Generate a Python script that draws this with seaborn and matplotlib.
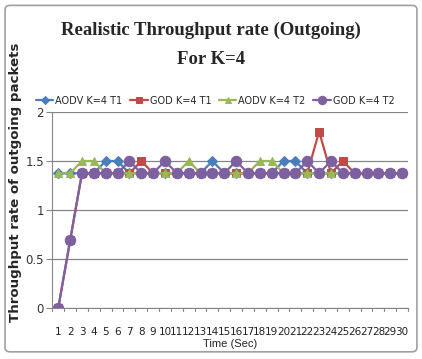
import matplotlib
matplotlib.use("Agg")
import matplotlib.pyplot as plt
from matplotlib.patches import FancyBboxPatch
import seaborn as sns
import pandas as pd
import numpy as np

times = list(range(1, 31))
aodv_t1 = [1.375, 1.375, 1.375, 1.375, 1.5, 1.5, 1.375, 1.375, 1.375, 1.375,
           1.375, 1.375, 1.375, 1.5, 1.375, 1.375, 1.375, 1.375, 1.375, 1.5,
           1.5, 1.375, 1.375, 1.375, 1.375, 1.375, 1.375, 1.375, 1.375, 1.375]
god_t1 = [0, 0.69, 1.375, 1.375, 1.375, 1.375, 1.375, 1.5, 1.375, 1.375,
          1.375, 1.375, 1.375, 1.375, 1.375, 1.375, 1.375, 1.375, 1.375, 1.375,
          1.375, 1.375, 1.8, 1.375, 1.5, 1.375, 1.375, 1.375, 1.375, 1.375]
aodv_t2 = [1.375, 1.375, 1.5, 1.5, 1.375, 1.375, 1.375, 1.375, 1.375, 1.375,
           1.375, 1.5, 1.375, 1.375, 1.375, 1.375, 1.375, 1.5, 1.5, 1.375,
           1.375, 1.375, 1.375, 1.375, 1.375, 1.375, 1.375, 1.375, 1.375, 1.375]
god_t2 = [0, 0.69, 1.375, 1.375, 1.375, 1.375, 1.5, 1.375, 1.375, 1.5,
          1.375, 1.375, 1.375, 1.375, 1.375, 1.5, 1.375, 1.375, 1.375, 1.375,
          1.375, 1.5, 1.375, 1.5, 1.375, 1.375, 1.375, 1.375, 1.375, 1.375]

series_names = ["AODV K=4 T1", "GOD K=4 T1", "AODV K=4 T2", "GOD K=4 T2"]
series_values = [aodv_t1, god_t1, aodv_t2, god_t2]
colors = ["#4A7EBB", "#BE4B48", "#98B954", "#7D60A0"]
markers = ["D", "s", "^", "o"]
msizes = [5, 6, 6, 7.5]

df = pd.concat([pd.DataFrame({"Time": times, "Value": v, "Series": n})
                for n, v in zip(series_names, series_values)], ignore_index=True)

sns.set_style("white")
fig = plt.figure(figsize=(4.22, 3.59), dpi=100)
ax = fig.add_axes([0.124, 0.142, 0.843, 0.546])

for name, col, mk, ms in zip(series_names, colors, markers, msizes):
    sub = df[df["Series"] == name]
    sns.lineplot(data=sub, x="Time", y="Value", ax=ax, color=col, marker=mk,
                 markersize=ms, markeredgecolor=col, linewidth=1.6, label=name,
                 legend=False)

ax.set_xlim(0.5, 30.5)
ax.set_ylim(0, 2)
ax.set_yticks([0, 0.5, 1, 1.5, 2])
ax.set_yticklabels(["0", "0.5", "1", "1.5", "2"], fontsize=8.5, color="#333333")
ax.set_xticks(times)
ax.set_xticklabels([str(t) for t in times], fontsize=7.5, color="#222222")
ax.tick_params(axis="x", length=0, pad=14)
ax.tick_params(axis="y", length=4, color="#868686", left=True, direction="out", pad=2)
for xb in np.arange(0.5, 31, 1):
    ax.plot([xb, xb], [0, -0.035], color="#868686", lw=0.8, clip_on=False)
ax.grid(axis="y", color="#868686", lw=0.9)
ax.set_axisbelow(True)
for s in ["top", "right"]:
    ax.spines[s].set_visible(False)
ax.spines["left"].set_color("#868686")
ax.spines["bottom"].set_color("#868686")

ax.set_xlabel("Time (Sec)", fontsize=8, labelpad=1, family="Liberation Sans")
ax.set_ylabel("Throughput rate of outgoing packets", fontsize=9.6,
              fontweight="bold")
ax.yaxis.set_label_coords(-0.084, 0.643)

handles, labels = ax.get_legend_handles_labels()
fig.legend(handles, labels, loc="center", bbox_to_anchor=(0.51, 0.72), ncol=4,
           frameon=False, fontsize=7, handlelength=1.8, columnspacing=0.8,
           handletextpad=0.2, markerscale=0.8)

fig.text(0.5, 0.915, "Realistic Throughput rate (Outgoing)", ha="center",
         va="center", fontsize=13.5, fontweight="bold", family="Liberation Serif")
fig.text(0.5, 0.835, "For K=4", ha="center", va="center", fontsize=13.5,
         fontweight="bold", family="Liberation Serif")

border = FancyBboxPatch((0.012, 0.02), 0.976, 0.965, boxstyle="round,pad=0,rounding_size=0.012",
                        transform=fig.transFigure, fill=False, ec="#A0A0A0", lw=1.2)
fig.add_artist(border)

fig.savefig("out.png", dpi=100)
